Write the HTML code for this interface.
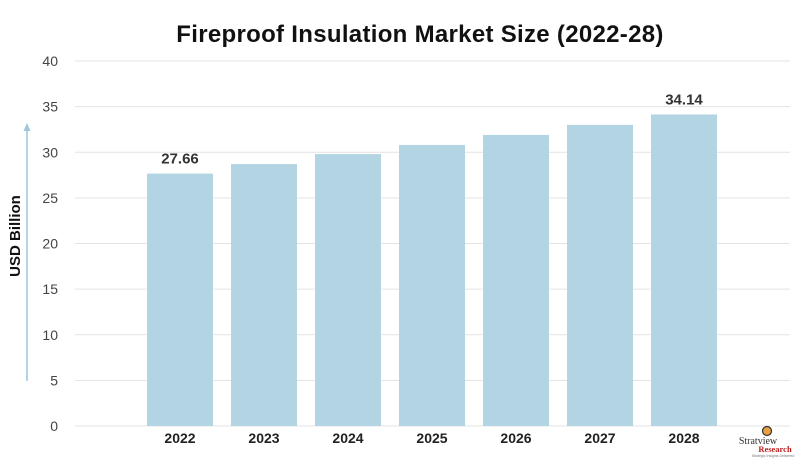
<!DOCTYPE html>
<html><head><meta charset="utf-8"><style>
body{margin:0;background:#fff;font-family:"Liberation Sans",sans-serif;}
</style></head><body>
<svg width="800" height="458" viewBox="0 0 800 458">
<text x="420" y="42" text-anchor="middle" font-size="24" font-weight="bold" letter-spacing="0.3" fill="#111">Fireproof Insulation Market Size (2022-28)</text>
<g id="grid"></g><g id="bars"></g>
<line x1="27" y1="381" x2="27" y2="130" stroke="#9cc7dd" stroke-width="1.5"/>
<polygon points="27,123 23.5,131 30.5,131" fill="#9cc7dd"/>
<text transform="translate(20,236) rotate(-90)" text-anchor="middle" font-size="15" font-weight="bold" fill="#111">USD Billion</text>
<g>
<circle cx="767" cy="431" r="4.5" fill="#e8a040" stroke="#333" stroke-width="1.2"/>
<text x="758" y="444" text-anchor="middle" font-family="Liberation Serif,serif" font-size="10" fill="#333">Stratview</text>
<text x="775" y="452" text-anchor="middle" font-family="Liberation Serif,serif" font-size="8.5" font-weight="bold" fill="#b22">Research</text>
<text x="773" y="457" text-anchor="middle" font-size="3.5" fill="#777">Strategic Insights Delivered</text>
</g>
</svg>
<script>
const categories=["2022","2023","2024","2025","2026","2027","2028"];
const values=[27.66,28.7,29.8,30.8,31.9,33.0,34.14];
const labels=["27.66","","","","","","34.14"];
const ticks=[0,5,10,15,20,25,30,35,40];
const NS="http://www.w3.org/2000/svg";
const y=v=>426-v*(365/40);
const x=i=>147+i*84;
const g=document.getElementById('grid'),b=document.getElementById('bars');
function mk(tag,at,parent,txt){const e=document.createElementNS(NS,tag);for(const k in at)e.setAttribute(k,at[k]);if(txt!==undefined)e.textContent=txt;parent.appendChild(e);return e;}
ticks.forEach(t=>{
 const l=mk('line',{x1:75,x2:790,y1:y(t),y2:y(t),stroke:'#e3e3e3','stroke-width':1},g);
 
 
 const tx=mk('text',{x:58,y:y(t)+5,'text-anchor':'end','font-size':14,fill:'#444'},g,String(t));
 
 
});
categories.forEach((c,i)=>{
 const r=mk('rect',{x:x(i),y:y(values[i]),width:66,height:426-y(values[i]),fill:'#b3d5e3'},b);
 
 
 const t=mk('text',{x:x(i)+33,y:443,'text-anchor':'middle','font-size':14,'font-weight':'bold',fill:'#222'},b,c);
 
 
 if(labels[i]){const v=mk('text',{x:x(i)+33,y:y(values[i])-10,'text-anchor':'middle','font-size':15,'font-weight':'bold',fill:'#333'},b,labels[i]);
 
 }
});
</script>
</body></html>
